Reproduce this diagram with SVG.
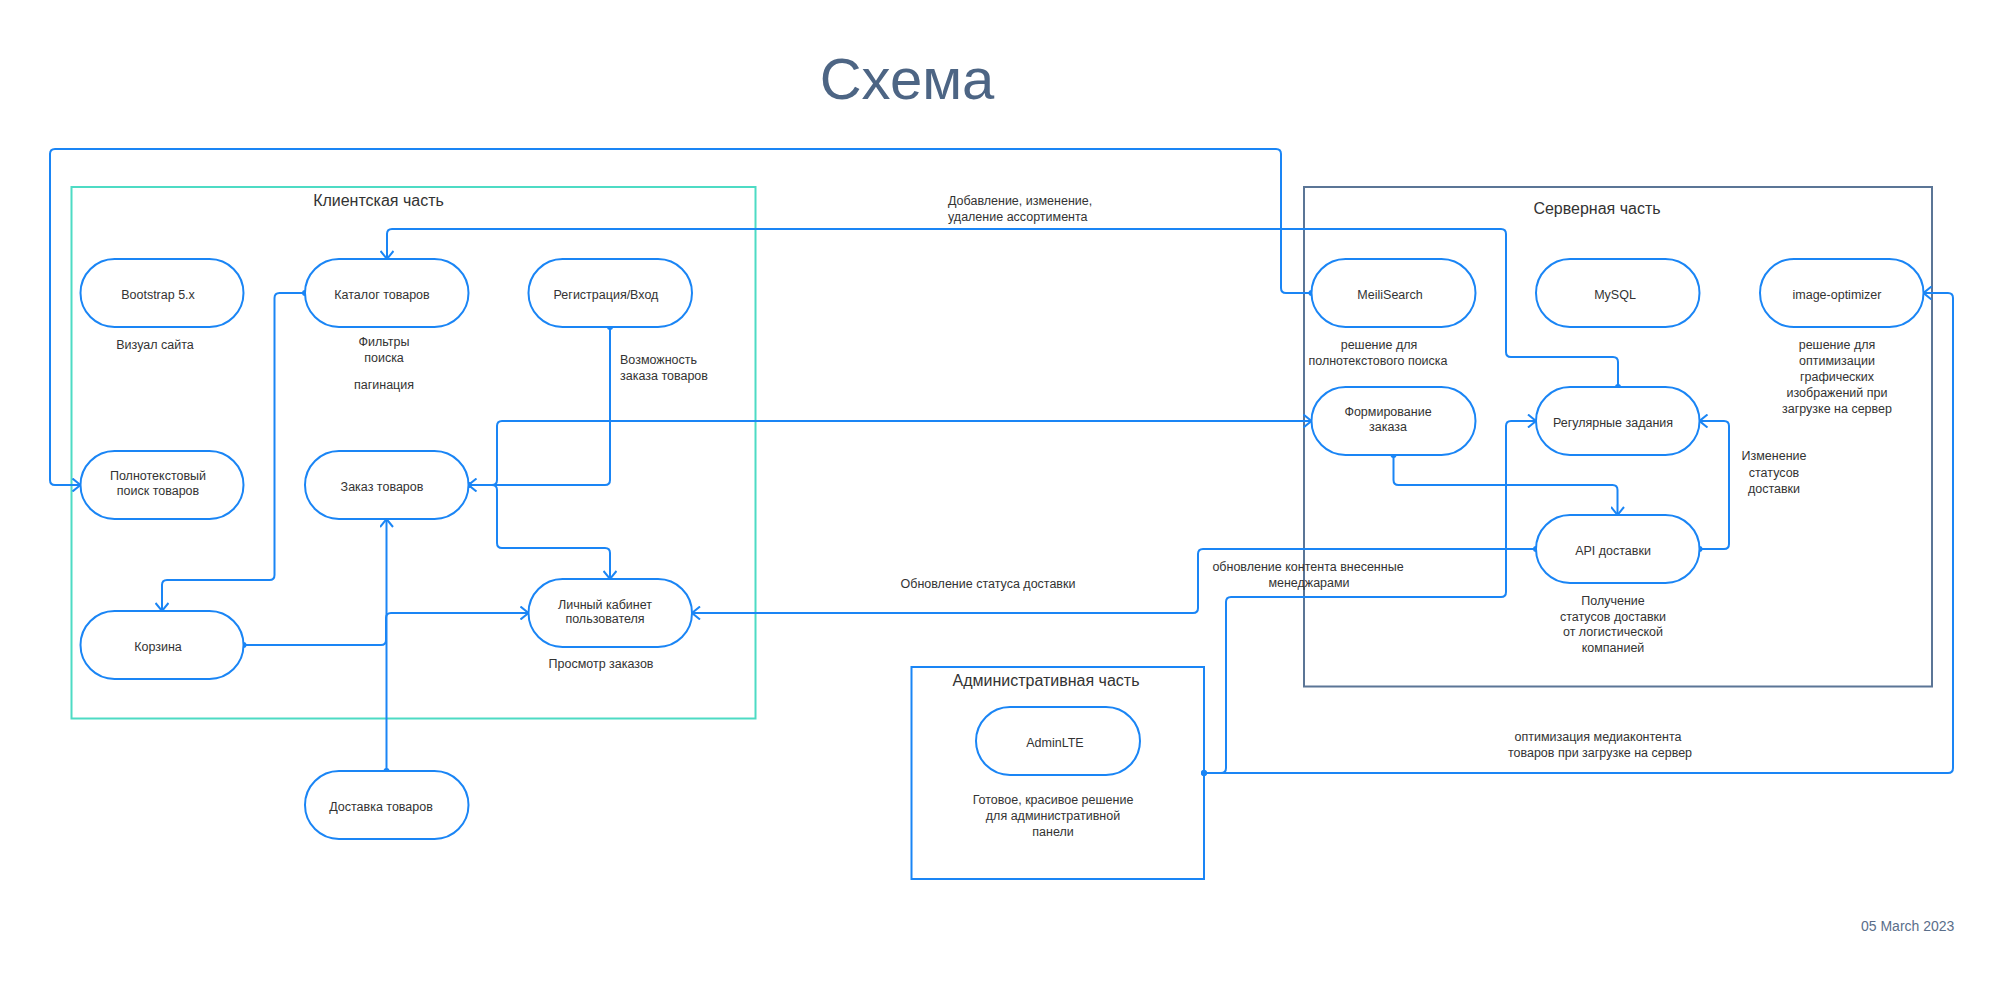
<svg xmlns="http://www.w3.org/2000/svg" width="2004" height="1001" viewBox="0 0 2004 1001">
<defs>
<style>
.bg{fill:#ffffff}
.node rect{fill:#ffffff;stroke:#1a85f5;stroke-width:2}
.t{font-family:"Liberation Sans",Arial,sans-serif;font-size:12.5px;fill:#333333}
.c{text-anchor:middle}
.bt{font-family:"Liberation Sans",Arial,sans-serif;font-size:16px;fill:#333333;text-anchor:middle}
.edge{fill:none;stroke:#1a85f5;stroke-width:2}
.title{font-family:"Liberation Sans",Arial,sans-serif;font-size:58px;fill:#4d6584;text-anchor:middle}
.date{font-family:"Liberation Sans",Arial,sans-serif;font-size:14px;fill:#5a6e8a}
</style>
<marker id="arr" viewBox="0 0 10 14" refX="9" refY="7" markerWidth="10" markerHeight="14" orient="auto" markerUnits="userSpaceOnUse">
<path d="M1,0.5 L9,7 L1,13.5" fill="none" stroke="#1a85f5" stroke-width="2"/>
</marker>
<marker id="dot" viewBox="0 0 8 8" refX="4" refY="4" markerWidth="8" markerHeight="8" markerUnits="userSpaceOnUse">
<circle cx="4" cy="4" r="3" fill="#1a85f5"/>
</marker>
</defs>
<rect class="bg" x="0" y="0" width="2004" height="1001"/>
<text class="title" x="907" y="99">Схема</text>
<text class="date" x="1861" y="931">05 March 2023</text>

<g id="client-area">
<rect x="71.5" y="187" width="684" height="531.5" fill="none" stroke="#4ddbc4" stroke-width="2"/>
<text class="bt" x="378.5" y="205.5">Клиентская часть</text>
</g>
<g id="server-area">
<rect x="1304" y="187" width="628" height="499.5" fill="none" stroke="#5b7596" stroke-width="2"/>
<text class="bt" x="1597" y="214">Серверная часть</text>
</g>
<g id="admin-area">
<rect x="911.5" y="667" width="292.5" height="212" fill="none" stroke="#1a85f5" stroke-width="2"/>
<text class="bt" x="1046" y="686">Административная часть</text>
</g>

<g id="connectors">
<path class="edge" marker-start="url(#dot)" marker-end="url(#arr)" d="M1311.5,293 H1286 Q1281,293 1281,288 V154 Q1281,149 1276,149 H55 Q50,149 50,154 V480 Q50,485 55,485 H80.5"/>
<path class="edge" marker-start="url(#dot)" marker-end="url(#arr)" d="M1618,387 V362 Q1618,357 1613,357 H1511 Q1506,357 1506,352 V234 Q1506,229 1501,229 H392 Q387,229 387,234 V259"/>
<path class="edge" marker-start="url(#dot)" marker-end="url(#arr)" d="M305,293 H279.5 Q274.5,293 274.5,298 V575 Q274.5,580 269.5,580 H167 Q162,580 162,585 V611"/>
<path class="edge" marker-start="url(#dot)" marker-end="url(#arr)" d="M610,327 V480 Q610,485 605,485 H468.5"/>
<path class="edge" marker-start="url(#dot)" marker-end="url(#arr)" d="M468.5,485 H492 Q497,485 497,480 V426 Q497,421 502,421 H1311.5"/>
<path class="edge" marker-start="url(#dot)" marker-end="url(#arr)" d="M468.5,485 H492 Q497,485 497,490 V543 Q497,548 502,548 H605 Q610,548 610,553 V579"/>
<path class="edge" marker-start="url(#dot)" marker-end="url(#arr)" d="M243.5,645 H381 Q386,645 386,640 V618 Q386,613 391,613 H528.5"/>
<path class="edge" marker-start="url(#dot)" marker-end="url(#arr)" d="M386.5,771 V519"/>
<path class="edge" marker-start="url(#dot)" marker-end="url(#arr)" d="M1536,549 H1203 Q1198,549 1198,554 V608 Q1198,613 1193,613 H692"/>
<path class="edge" marker-start="url(#dot)" marker-end="url(#arr)" d="M1204,773 H1221 Q1226,773 1226,768 V602 Q1226,597 1231,597 H1501 Q1506,597 1506,592 V426 Q1506,421 1511,421 H1536"/>
<path class="edge" marker-start="url(#dot)" marker-end="url(#arr)" d="M1204,773 H1948 Q1953,773 1953,768 V298 Q1953,293 1948,293 H1923.5"/>
<path class="edge" marker-start="url(#dot)" marker-end="url(#arr)" d="M1393.5,455 V480 Q1393.5,485 1398.5,485 H1612.5 Q1617.5,485 1617.5,490 V515"/>
<path class="edge" marker-start="url(#dot)" marker-end="url(#arr)" d="M1699.5,549 H1724 Q1729,549 1729,544 V426 Q1729,421 1724,421 H1699.5"/>
</g>

<g id="n-bootstrap" class="node"><rect x="80.5" y="259" width="163" height="68" rx="34"/><text class="t c" x="158" y="298.5">Bootstrap 5.x</text></g>
<g id="n-catalog" class="node"><rect x="305" y="259" width="163.5" height="68" rx="34"/><text class="t c" x="382" y="298.5">Каталог товаров</text></g>
<g id="n-register" class="node"><rect x="528.5" y="259" width="163.5" height="68" rx="34"/><text class="t c" x="606" y="298.5">Регистрация/Вход</text></g>
<g id="n-fulltext" class="node"><rect x="80.5" y="451" width="163" height="68" rx="34"/><text class="t c" x="158" y="480">Полнотекстовый</text><text class="t c" x="158" y="494.5">поиск товаров</text></g>
<g id="n-order" class="node"><rect x="305" y="451" width="163.5" height="68" rx="34"/><text class="t c" x="382" y="490.5">Заказ товаров</text></g>
<g id="n-cart" class="node"><rect x="80.5" y="611" width="163" height="68" rx="34"/><text class="t c" x="158" y="650.5">Корзина</text></g>
<g id="n-cabinet" class="node"><rect x="528.5" y="579" width="163.5" height="68" rx="34"/><text class="t c" x="605" y="608.5">Личный кабинет</text><text class="t c" x="605" y="622.5">пользователя</text></g>
<g id="n-delivery" class="node"><rect x="305" y="771" width="163.5" height="68" rx="34"/><text class="t c" x="381" y="810.5">Доставка товаров</text></g>
<g id="n-adminlte" class="node"><rect x="976" y="707" width="164" height="68" rx="34"/><text class="t c" x="1055" y="746.5">AdminLTE</text></g>
<g id="n-meili" class="node"><rect x="1311.5" y="259" width="164" height="68" rx="34"/><text class="t c" x="1390" y="298.5">MeiliSearch</text></g>
<g id="n-mysql" class="node"><rect x="1536" y="259" width="163.5" height="68" rx="34"/><text class="t c" x="1615" y="298.5">MySQL</text></g>
<g id="n-imgopt" class="node"><rect x="1760" y="259" width="163.5" height="68" rx="34"/><text class="t c" x="1837" y="298.5">image-optimizer</text></g>
<g id="n-formorder" class="node"><rect x="1311.5" y="387" width="164" height="68" rx="34"/><text class="t c" x="1388" y="416">Формирование</text><text class="t c" x="1388" y="430.5">заказа</text></g>
<g id="n-jobs" class="node"><rect x="1536" y="387" width="163.5" height="68" rx="34"/><text class="t c" x="1613" y="427">Регулярные задания</text></g>
<g id="n-api" class="node"><rect x="1536" y="515" width="163.5" height="68" rx="34"/><text class="t c" x="1613" y="555">API доставки</text></g>

<g id="labels">
<text class="t c" x="155" y="348.5">Визуал сайта</text>
<text class="t c" x="384" y="345.5">Фильтры</text>
<text class="t c" x="384" y="361.5">поиска</text>
<text class="t c" x="384" y="388.5">пагинация</text>
<text class="t" x="620" y="363.5">Возможность</text>
<text class="t" x="620" y="380">заказа товаров</text>
<text class="t c" x="601" y="668">Просмотр заказов</text>
<text class="t c" x="1379" y="348.5">решение для</text>
<text class="t c" x="1378" y="364.5">полнотекстового поиска</text>
<text class="t c" x="1837" y="348.5">решение для</text>
<text class="t c" x="1837" y="364.5">оптимизации</text>
<text class="t c" x="1837" y="380.5">графических</text>
<text class="t c" x="1837" y="396.5">изображений при</text>
<text class="t c" x="1837" y="412.5">загрузке на сервер</text>
<text class="t c" x="1774" y="460">Изменение</text>
<text class="t c" x="1774" y="476.5">статусов</text>
<text class="t c" x="1774" y="492.5">доставки</text>
<text class="t c" x="1613" y="604.5">Получение</text>
<text class="t c" x="1613" y="620.5">статусов доставки</text>
<text class="t c" x="1613" y="636">от логистической</text>
<text class="t c" x="1613" y="652">компанией</text>
<text class="t c" x="1053" y="804">Готовое, красивое решение</text>
<text class="t c" x="1053" y="819.5">для административной</text>
<text class="t c" x="1053" y="836">панели</text>
<text class="t c" x="1308" y="571">обновление контента внесенные</text>
<text class="t c" x="1309" y="587">менеджарами</text>
<text class="t c" x="988" y="588">Обновление статуса доставки</text>
<text class="t" x="948" y="204.5">Добавление, изменение,</text>
<text class="t" x="948" y="220.5">удаление ассортимента</text>
<text class="t c" x="1598" y="740.5">оптимизация медиаконтента</text>
<text class="t c" x="1600" y="756.5">товаров при загрузке на сервер</text>
</g>
</svg>
